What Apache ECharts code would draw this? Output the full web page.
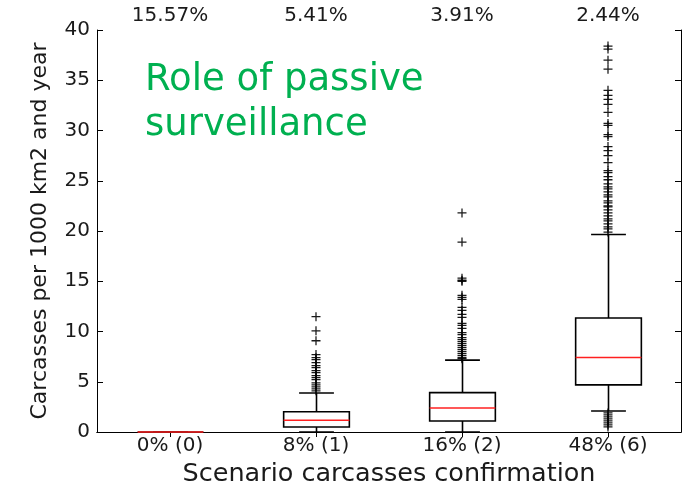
<!DOCTYPE html>
<html>
<head>
<meta charset="utf-8">
<script src="https://cdn.jsdelivr.net/npm/echarts@6/dist/echarts.min.js"></script>
<style>html,body{margin:0;padding:0;background:#fff}#c{width:690px;height:485px}</style>
</head>
<body>
<div id="c"></div>
<script>
const categories = ['0% (0)', '8% (1)', '16% (2)', '48% (6)'];
const topLabels = ['15.57%', '5.41%', '3.91%', '2.44%'];
const lowWhisker = [0, 0, 0, 2.09];
const q1 = [0, 0.5, 1.10, 4.69];
const median = [0, 1.17, 2.39, 7.41];
const q3 = [0, 2.02, 3.92, 11.34];
const highWhisker = [0, 3.88, 7.15, 19.65];
const outliers0 = [];
const outliers1 = [11.47, 10.07, 9.08, 7.7, 7.4, 7.2, 6.9, 6.6, 6.4, 6.1, 5.9, 5.6, 5.4, 5.2, 4.9, 4.7, 4.5, 4.3, 4.1];
const outliers2 = [21.8, 18.9, 15.3, 15.1, 15.0, 13.6, 13.4, 13.2, 12.4, 12.1, 11.7, 11.4, 10.8, 10.6, 10.3, 9.9, 9.7, 9.4, 9.2, 9.0, 8.8, 8.6, 8.4, 8.2, 8.0, 7.8, 7.6, 7.4, 7.3];
const outliers3 = [38.4, 38.1, 37.0, 36.1, 34.0, 33.5, 33.1, 32.6, 31.8, 30.7, 30.5, 29.6, 29.4, 28.4, 28.0, 27.5, 26.8, 26.0, 25.8, 25.4, 25.1, 24.7, 24.4, 24.2, 23.9, 23.6, 23.4, 23.0, 22.8, 22.5, 22.4, 22.1, 21.8, 21.5, 21.2, 21.0, 20.7, 20.4, 20.2, 19.9,
  1.9, 1.7, 1.5, 1.3, 1.1, 0.9, 0.7, 0.5];
const yTicks = { min: 0, max: 40, interval: 5 };

const boxData = categories.map((c, i) => [i, lowWhisker[i], q1[i], median[i], q3[i], highWhisker[i]]);
const outlierData = [];
[outliers0, outliers1, outliers2, outliers3].forEach((arr, i) => arr.forEach(v => outlierData.push([i, v])));

const FONT = 'DejaVu Sans';
const chart = echarts.init(document.getElementById('c'));

function renderBox(params, api) {
  const ci = api.value(0);
  const lo = api.coord([ci, api.value(1)]);
  const b1 = api.coord([ci, api.value(2)]);
  const md = api.coord([ci, api.value(3)]);
  const b3 = api.coord([ci, api.value(4)]);
  const hi = api.coord([ci, api.value(5)]);
  const band = api.size([1, 0])[0];
  const hw = band * 0.225;
  const cw = hw * 0.53;
  const x = Math.round(lo[0]) + 0.5;
  const s = { stroke: '#000', lineWidth: 1.6, fill: null };
  return {
    type: 'group',
    children: [
      { type: 'line', shape: { x1: x, y1: b3[1], x2: x, y2: hi[1] }, style: s },
      { type: 'line', shape: { x1: x, y1: lo[1], x2: x, y2: b1[1] }, style: s },
      { type: 'line', shape: { x1: x - cw, y1: hi[1], x2: x + cw, y2: hi[1] }, style: s },
      { type: 'line', shape: { x1: x - cw, y1: lo[1], x2: x + cw, y2: lo[1] }, style: s },
      { type: 'rect', shape: { x: x - hw, y: b3[1], width: 2 * hw, height: b1[1] - b3[1] }, style: { stroke: '#000', fill: '#fff', lineWidth: 1.6 } },
      { type: 'line', shape: { x1: x - hw, y1: md[1], x2: x + hw, y2: md[1] }, style: { stroke: '#ff2020', lineWidth: 1.5 } }
    ]
  };
}

const axisLabelStyle = { fontFamily: FONT, fontSize: 20, color: '#1a1a1a' };

chart.setOption({
  animation: false,
  backgroundColor: '#fff',
  grid: { left: 97, right: 9, top: 30, bottom: 53, containLabel: false, outerBoundsMode: 'none' },
  xAxis: [
    {
      type: 'category', data: categories, position: 'bottom', boundaryGap: true,
      axisLine: { show: true, lineStyle: { color: '#000', width: 1 } },
      axisTick: { show: false },
      axisLabel: Object.assign({ margin: 4 }, axisLabelStyle),
      splitLine: { show: false },
      name: 'Scenario carcasses confirmation', nameLocation: 'middle', nameGap: 21,
      nameTextStyle: { fontFamily: FONT, fontSize: 25.5, color: '#1a1a1a' }
    },
    {
      type: 'category', data: topLabels, position: 'top', boundaryGap: true,
      axisLine: { show: true, lineStyle: { color: '#000', width: 1 } },
      axisTick: { show: true, inside: true, length: 5, alignWithLabel: true, lineStyle: { color: '#000' } },
      axisLabel: Object.assign({ margin: 4 }, axisLabelStyle),
      splitLine: { show: false }
    }
  ],
  yAxis: [
    {
      type: 'value', min: yTicks.min, max: yTicks.max, interval: yTicks.interval, position: 'left',
      axisLine: { show: true, lineStyle: { color: '#000', width: 1 } },
      axisTick: { show: true, inside: true, length: 6, lineStyle: { color: '#000' } },
      axisLabel: Object.assign({ margin: 7 }, axisLabelStyle),
      splitLine: { show: false },
      name: 'Carcasses per 1000 km2 and year', nameLocation: 'middle', nameGap: 46,
      nameTextStyle: { fontFamily: FONT, fontSize: 22, color: '#1a1a1a' }
    },
    {
      type: 'value', min: yTicks.min, max: yTicks.max, interval: yTicks.interval, position: 'right',
      axisLine: { show: true, lineStyle: { color: '#000', width: 1 } },
      axisTick: { show: true, inside: true, length: 6, lineStyle: { color: '#000' } },
      axisLabel: { show: false },
      splitLine: { show: false }
    }
  ],
  graphic: [
    {
      type: 'text', left: 145, top: 58, z: 100,
      style: { text: 'Role of passive\nsurveillance', fontFamily: FONT, fontSize: 37, lineHeight: 45, fill: '#00b050' }
    }
  ],
  series: [
    {
      type: 'custom', xAxisIndex: 0, yAxisIndex: 0, data: boxData,
      encode: { x: 0, y: [1, 2, 3, 4, 5] },
      renderItem: renderBox, z: 3
    },
    {
      type: 'scatter', xAxisIndex: 0, yAxisIndex: 0, data: outlierData,
      symbol: 'path://M0,4.3H10V5.7H0Z M4.3,0H5.7V10H4.3Z', symbolSize: 9,
      itemStyle: { color: '#000', opacity: 0.9 }, z: 4
    }
  ]
});
</script>
</body>
</html>
